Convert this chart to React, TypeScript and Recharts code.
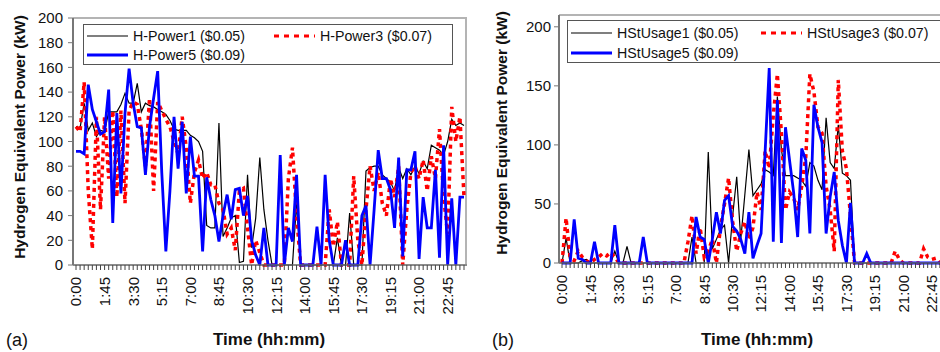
import React from 'react';
import { LineChart, Line, XAxis, YAxis } from 'recharts';

const FONT = 'Arial, "Liberation Sans", Helvetica, sans-serif';

// one day in 15 minute slots
const times = Array.from({ length: 96 }, (_, i) => `${Math.floor(i / 4)}:${String((i % 4) * 15).padStart(2, '0')}`);
const timeLabels = ['0:00', '1:45', '3:30', '5:15', '7:00', '8:45', '10:30', '12:15', '14:00', '15:45', '17:30', '19:15', '21:00', '22:45'];

const powerTicks = [0, 20, 40, 60, 80, 100, 120, 140, 160, 180, 200];
const usageTicks = [0, 50, 100, 150, 200];

const powerNames = ['H-Power1 ($0.05)', 'H-Power3 ($0.07)', 'H-Power5 ($0.09)'];
const usageNames = ['HStUsage1 ($0.05)', 'HStUsage3 ($0.07)', 'HStUsage5 ($0.09)'];

// (a) hydrogen power
const hPower1 = [
  112, 111, 131, 109, 115, 104, 109, 108, 124, 124,
  124, 130, 139, 131, 131, 147, 124, 131, 129, 128,
  126, 124, 122, 117, 110, 109, 109, 109, 105, 103,
  100, 92, 32, 30, 30, 115, 23, 30, 38, 40,
  2, 3, 73, 14, 38, 87, 45, 20, 0, 0,
  0, 0, 0, 0, 50, 0, 0, 0, 0, 0,
  0, 0, 0, 0, 22, 0, 0, 42, 0, 0,
  0, 76, 79, 80, 80, 73, 70, 67, 60, 79,
  70, 78, 73, 80, 74, 84, 78, 97, 95, 93,
  89, 100, 118, 113, 115, 113,
];
const hPower3 = [
  112, 108, 148, 60, 13, 120, 45, 120, 70, 125,
  55, 125, 50, 125, 132, 130, 110, 80, 135, 60,
  132, 125, 118, 112, 100, 90, 120, 95, 50, 75,
  85, 70, 75, 65, 65, 50, 45, 25, 30, 12,
  60, 62, 30, 0, 20, 10, 0, 0, 0, 0,
  0, 0, 70, 95, 40, 0, 0, 0, 0, 0,
  0, 0, 45, 15, 35, 0, 0, 0, 72, 20,
  0, 45, 80, 60, 75, 50, 40, 70, 55, 80,
  0, 45, 75, 80, 70, 85, 60, 88, 70, 110,
  55, 25, 128, 100, 120, 55,
];
const hPower5 = [
  92, 92, 90, 146, 126, 116, 106, 108, 142, 34,
  123, 58, 123, 159, 131, 112, 111, 73, 112, 135,
  157, 75, 11, 60, 120, 78, 116, 58, 104, 72,
  72, 11, 71, 53, 40, 19, 40, 57, 37, 61,
  62, 40, 56, 20, 8, 0, 30, 0, 0, 0,
  89, 0, 30, 19, 73, 0, 0, 0, 0, 31,
  0, 73, 20, 0, 0, 0, 20, 0, 0, 0,
  40, 48, 0, 45, 93, 70, 70, 61, 30, 87,
  7, 77, 77, 92, 5, 55, 30, 30, 77, 6,
  97, 0, 54, 0, 55, 55,
];

// (b) hydrogen storage usage
const hStUsage1 = [
  0, 21, 0, 0, 0, 2, 3, 0, 0, 0,
  0, 0, 0, 10, 0, 0, 14, 0, 0, 0,
  0, 0, 0, 0, 0, 0, 0, 0, 0, 0,
  0, 0, 22, 0, 0, 0, 94, 12, 20, 28,
  32, 0, 40, 73, 20, 58, 96, 57, 62, 67,
  79, 77, 74, 141, 96, 74, 74, 74, 72, 70,
  65, 85, 82, 70, 62, 123, 85, 80, 117, 76,
  74, 70, 0, 0, 0, 0, 0, 0, 0, 0,
  0, 0, 0, 0, 0, 0, 0, 0, 0, 0,
  0, 0, 0, 0, 0, 0,
];
const hStUsage3 = [
  0, 38, 5, 2, 10, 5, 2, 0, 3, 5,
  8, 6, 9, 5, 0, 0, 0, 0, 0, 0,
  0, 0, 0, 0, 0, 0, 0, 0, 0, 0,
  0, 18, 40, 8, 30, 5, 10, 20, 0, 30,
  50, 72, 35, 10, 25, 35, 20, 30, 60, 45,
  95, 80, 125, 160, 110, 45, 60, 55, 45, 65,
  90, 160, 145, 115, 110, 65, 45, 10, 155, 95,
  80, 40, 0, 0, 0, 0, 0, 0, 0, 0,
  0, 0, 10, 3, 0, 0, 0, 0, 0, 12,
  5, 3, 4, 0, 0, 0,
];
const hStUsage5 = [
  0, 0, 0, 37, 4, 3, 0, 0, 18, 0,
  0, 0, 0, 32, 0, 0, 0, 0, 0, 0,
  22, 0, 0, 0, 0, 0, 0, 0, 0, 0,
  0, 0, 0, 39, 22, 20, 0, 20, 43, 25,
  53, 57, 31, 27, 20, 8, 43, 4, 15, 25,
  95, 165, 18, 138, 17, 115, 87, 60, 22, 97,
  87, 25, 134, 115, 102, 25, 56, 77, 36, 15,
  0, 51, 0, 0, 0, 8, 0, 0, 0, 0,
  0, 0, 0, 0, 0, 0, 0, 0, 0, 0,
  0, 0, 0, 0, 0, 0,
];

const powerData = times.map((time, i) => ({ time, s1: hPower1[i], s3: hPower3[i], s5: hPower5[i] }));
const usageData = times.map((time, i) => ({ time, s1: hStUsage1[i], s3: hStUsage3[i], s5: hStUsage5[i] }));

const TimeTick = (props: any) => {
  const { x, y, payload } = props;
  if (!timeLabels.includes(payload.value)) return <g />;
  return (
    <text x={x} y={y} dy="0.36em" transform={`rotate(-90, ${x}, ${y})`} textAnchor="end"
      fontSize={15} fontFamily={FONT} fill="#111">
      {payload.value}
    </text>
  );
};

const LegendBox = ({ x, y, w, h, col2, rowTop, rowH, names }: any) => {
  const items = [
    { name: names[0], color: '#000', width: 1.2, dash: undefined, col: 0, row: 0 },
    { name: names[1], color: '#ff0000', width: 3, dash: '5 5', col: 1, row: 0 },
    { name: names[2], color: '#0000ff', width: 3, dash: undefined, col: 0, row: 1 },
  ];
  return (
    <div style={{ position: 'absolute', left: x, top: y, width: w, height: h, border: '1.5px solid #555', background: '#fff', boxSizing: 'border-box' }}>
      {items.map((it) => (
        <div key={it.name} style={{ position: 'absolute', left: it.col ? col2 : 3, top: rowTop + it.row * rowH, height: rowH, display: 'flex', alignItems: 'center', whiteSpace: 'nowrap', fontSize: 14.2, color: '#111' }}>
          <svg width={41} height={8}>
            <line x1={0} y1={4} x2={41} y2={4} stroke={it.color} strokeWidth={it.width} strokeDasharray={it.dash} />
          </svg>
          <span style={{ marginLeft: 5 }}>{it.name}</span>
        </div>
      ))}
    </div>
  );
};

const Panel = (p: any) => {
  const width = p.plotRight - p.left;
  return (
    <>
      <div style={{ position: 'absolute', left: p.plotLeft, top: p.plotTop - 1, width: p.plotRight - p.plotLeft, height: p.plotBottom - p.plotTop, borderTop: '2px solid #b4b4b4', borderRight: p.frameRight ? '2px solid #b4b4b4' : 'none', boxSizing: 'border-box' }} />
      <div style={{ position: 'absolute', left: p.left, top: 0 }}>
        <LineChart width={width} height={352} data={p.data} margin={{ top: p.plotTop, right: 0, left: 0, bottom: 0 }}>
          <XAxis dataKey="time" interval={0} height={352 - p.plotBottom} tickSize={5} tickMargin={7}
            tick={(t: any) => <TimeTick {...t} />} tickLine={{ stroke: '#444' }}
            axisLine={{ stroke: '#666', strokeWidth: 1.5 }} padding={{ left: 3, right: 3 }} />
          <YAxis width={p.plotLeft - p.left} domain={[0, p.yMax]} ticks={p.yTicks} tickSize={5} tickMargin={p.yTickMargin}
            tick={{ fontSize: 15, fill: '#111', fontFamily: FONT }} tickLine={{ stroke: '#777' }}
            axisLine={{ stroke: '#777', strokeWidth: 2 }} allowDecimals={false} />
          <Line dataKey="s1" name={p.names[0]} stroke="#000" strokeWidth={1.2} dot={false} isAnimationActive={false} />
          <Line dataKey="s3" name={p.names[1]} stroke="#ff0000" strokeWidth={3.5} strokeDasharray="4 4" dot={false} isAnimationActive={false} />
          <Line dataKey="s5" name={p.names[2]} stroke="#0000ff" strokeWidth={2.8} dot={false} isAnimationActive={false} />
        </LineChart>
      </div>
      <LegendBox {...p.legend} names={p.names} />
      <div style={{ position: 'absolute', left: p.yTitleX, top: p.yTitleY, transform: 'translate(-50%, -50%) rotate(-90deg)', whiteSpace: 'nowrap', fontWeight: 'bold', fontSize: 15.5 }}>
        Hydrogen Equivalent Power (kW)
      </div>
      <div style={{ position: 'absolute', left: p.titleX, top: 340, transform: 'translate(-50%, -50%)', whiteSpace: 'nowrap', fontWeight: 'bold', fontSize: 17 }}>
        Time (hh:mm)
      </div>
      <div style={{ position: 'absolute', left: p.letterX, top: 340, transform: 'translateY(-50%)', fontSize: 18 }}>
        {p.letter}
      </div>
    </>
  );
};

export default function App() {
  return (
    <div style={{ position: 'absolute', left: 0, top: 0, width: 940, height: 352, overflow: 'hidden', background: '#fff', fontFamily: FONT, color: '#111' }}>
      <Panel left={0} plotLeft={73} plotRight={467} plotTop={18} plotBottom={265} frameRight
        data={powerData} names={powerNames} yTicks={powerTicks} yMax={200} yTickMargin={5}
        legend={{ x: 83, y: 24, w: 370, h: 41, col2: 190, rowTop: 1.5, rowH: 19 }}
        yTitleX={20} yTitleY={137} titleX={269} letterX={6} letter="(a)" />
      <Panel left={470} plotLeft={559} plotRight={951} plotTop={15} plotBottom={263}
        data={usageData} names={usageNames} yTicks={usageTicks} yMax={210} yTickMargin={3}
        legend={{ x: 567, y: 20, w: 390, h: 43, col2: 193, rowTop: 2, rowH: 20 }}
        yTitleX={502} yTitleY={133} titleX={757} letterX={492} letter="(b)" />
    </div>
  );
}
